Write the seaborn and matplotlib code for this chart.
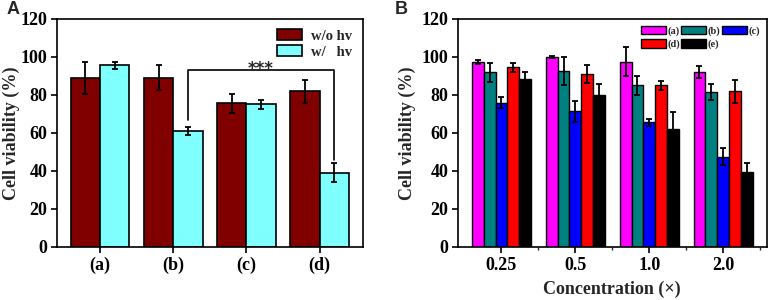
import matplotlib
matplotlib.use("Agg")
import matplotlib.pyplot as plt
from matplotlib.ticker import MultipleLocator
import seaborn as sns
import pandas as pd
import numpy as np

# Panel A data
samples_a = ['(a)', '(b)', '(c)', '(d)']
light_groups = ['w/o hv', 'w/   hv']
dark_vals = [89, 89, 75.5, 82]
dark_err = [8.5, 6.5, 5, 6]
light_vals = [95.5, 61, 75, 39]
light_err = [2, 2, 2.5, 5]

# Panel B data
concs = ['0.25', '0.5', '1.0', '2.0']
series_b = ['(a)', '(b)', '(c)', '(d)', '(e)']
vals_b = {
    '(a)': [97.5, 99.8, 97.5, 92],
    '(b)': [92, 92.5, 85, 81.5],
    '(c)': [76, 71.5, 65.5, 47.5],
    '(d)': [94.5, 91, 85, 82],
    '(e)': [88.5, 80, 62, 39.5],
}
errs_b = {
    '(a)': [1, 0.5, 7.5, 3],
    '(b)': [5, 7.5, 5, 4],
    '(c)': [3, 5.5, 2, 4.5],
    '(d)': [2.5, 4.5, 2.5, 6],
    '(e)': [3.5, 5.5, 9, 4.5],
}

colors_a = ['#800000', '#80FFFF']
colors_b = ['#FF00FF', '#008080', '#0000FF', '#FF0000', '#000000']

sns.set_theme(style="ticks")
plt.rcParams['font.family'] = ['Liberation Serif', 'DejaVu Serif']
plt.rcParams['font.weight'] = 'bold'
plt.rcParams['axes.labelweight'] = 'bold'


def style_axes(ax, label_x):
    for s in ax.spines.values():
        s.set_linewidth(1.2)
        s.set_color('black')
    ax.set_ylim(0, 120)
    ax.yaxis.set_major_locator(MultipleLocator(20))
    ax.tick_params(axis='both', which='major', direction='out', length=4, width=1.2,
                   labelsize=13, colors='black', pad=3)
    ax.set_ylabel('Cell viability (%)', fontsize=13)
    ax.yaxis.set_label_coords(label_x, 0.5)
    for lab in ax.get_xticklabels() + ax.get_yticklabels():
        lab.set_fontweight('bold')


def add_errors(ax, errs):
    for cont, err in zip(ax.containers, errs):
        for bar, e in zip(cont, err):
            cx = bar.get_x() + bar.get_width() / 2
            ax.errorbar(cx, bar.get_height(), yerr=e, fmt='none', ecolor='black',
                        elinewidth=1.3, capsize=2.5, capthick=1.3, zorder=5)


fig = plt.figure(figsize=(7.8, 3.0), dpi=100)
ax1 = fig.add_axes([0.073, 0.177, 0.392, 0.76])
ax2 = fig.add_axes([0.587, 0.177, 0.396, 0.76])

# Panel A
df_a = pd.DataFrame({
    'sample': samples_a * 2,
    'group': [light_groups[0]] * 4 + [light_groups[1]] * 4,
    'value': dark_vals + light_vals,
})
sns.barplot(data=df_a, x='sample', y='value', hue='group', palette=colors_a,
            saturation=1, edgecolor='black', linewidth=1.2, width=0.8, ax=ax1,
            errorbar=None)
add_errors(ax1, [dark_err, light_err])
style_axes(ax1, -0.12)
ax1.set_xlabel('')
ax1.legend(loc='upper right', bbox_to_anchor=(1.0, 1.0), frameon=False,
           fontsize=10.5, handlelength=1.7, handleheight=0.75, handletextpad=0.65,
           labelspacing=0.2, borderaxespad=0.3)
for t in ax1.get_legend().get_texts():
    t.set_fontweight('bold')

# significance bracket between (b) and (d) irradiated bars
b_bar = ax1.containers[1][1]
d_bar = ax1.containers[1][3]
xb = b_bar.get_x() + b_bar.get_width() / 2
xd = d_bar.get_x() + d_bar.get_width() / 2
ax1.plot([xb, xb, xd, xd], [67, 93, 93, 46], color='black', lw=1.2)
ax1.text((xb + xd) / 2, 91, '***', ha='center', va='baseline', fontsize=12,
         fontweight='bold', family=['DejaVu Sans'])

# Panel B
df_b = pd.DataFrame({
    'conc': concs * len(series_b),
    'series': np.repeat(series_b, len(concs)),
    'value': sum([vals_b[s] for s in series_b], []),
})
sns.barplot(data=df_b, x='conc', y='value', hue='series', palette=colors_b,
            saturation=1, edgecolor='black', linewidth=1.0, width=0.8, ax=ax2,
            errorbar=None)
add_errors(ax2, [errs_b[s] for s in series_b])
style_axes(ax2, -0.135)
ax2.set_xticks(np.arange(len(concs)) + 0.5, minor=True)
ax2.tick_params(axis='x', which='minor', direction='out', length=2.5, width=1)
ax2.set_xlabel('Concentration (×)', fontsize=13, labelpad=5)
# row-wise legend order: (a)(b)(c) / (d)(e)
handles, labels = ax2.get_legend_handles_labels()
order = [0, 3, 1, 4, 2]
ax2.legend([handles[i] for i in order], [labels[i] for i in order],
           loc='upper right', bbox_to_anchor=(1.0, 1.0), frameon=False,
           fontsize=7.5, ncol=3, handlelength=2.4, handleheight=0.9,
           handletextpad=0.15, columnspacing=0.1, labelspacing=0.3,
           borderaxespad=0.25)
for t in ax2.get_legend().get_texts():
    t.set_fontweight('bold')

fig.text(0.008, 0.955, 'A', fontsize=13, fontweight='bold', family=['Liberation Sans'])
fig.text(0.506, 0.955, 'B', fontsize=13, fontweight='bold', family=['Liberation Sans'])

fig.savefig('out.png', dpi=100)
